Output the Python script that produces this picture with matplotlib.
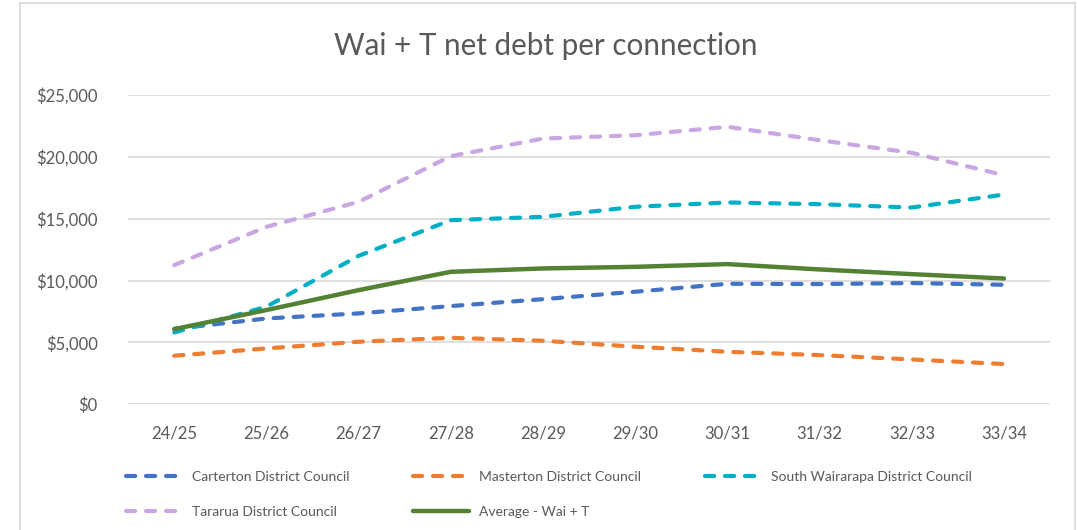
import matplotlib
matplotlib.use('Agg')
import matplotlib.pyplot as plt
from matplotlib.lines import Line2D

years = ['24/25', '25/26', '26/27', '27/28', '28/29',
         '29/30', '30/31', '31/32', '32/33', '33/34']

carterton = [6100, 6940, 7350, 7940, 8500, 9100, 9740, 9720, 9800, 9660]
masterton = [3930, 4520, 5060, 5380, 5140, 4660, 4250, 3980, 3630, 3260]
south_wairarapa = [5810, 7890, 12000, 14880, 15150, 15960, 16310, 16170, 15900, 16950]
tararua = [11250, 14340, 16360, 20050, 21470, 21740, 22420, 21340, 20320, 18510]
average = [6080, 7620, 9230, 10710, 10980, 11110, 11330, 10900, 10520, 10170]

series = [
    ('Carterton District Council', carterton, '#4472C4', True),
    ('Masterton District Council', masterton, '#ED7D31', True),
    ('South Wairarapa District Council', south_wairarapa, '#00AFC6', True),
    ('Tararua District Council', tararua, '#C9A7E3', True),
    ('Average - Wai + T', average, '#548235', False),
]

plt.rcParams['font.family'] = ['Lato', 'DejaVu Sans']
grey = '#595959'

fig = plt.figure(figsize=(10.77, 5.30), dpi=100)
ax = fig.add_axes([0.119, 0.237, 0.856, 0.584])

x = range(len(years))
handles = []
for name, vals, col, dashed in series:
    if dashed:
        ln, = ax.plot(x, vals, color=col, lw=3.0, linestyle=(0, (2.2, 2.6)),
                      dash_capstyle='round', label=name)
    else:
        ln, = ax.plot(x, vals, color=col, lw=3.2, solid_capstyle='round', label=name)
    handles.append(ln)

ax.set_xlim(-0.5, len(years) - 0.5)
ax.set_ylim(0, 25000)
ax.set_yticks(range(0, 25001, 5000))
ax.set_yticklabels(['${:,}'.format(v) for v in range(0, 25001, 5000)])
ax.set_xticks(list(x))
ax.set_xticklabels(years)
ax.tick_params(axis='both', length=0, labelsize=12, labelcolor=grey)
ax.tick_params(axis='y', pad=22)
ax.tick_params(axis='x', pad=15)
ax.grid(axis='y', color='#D9D9D9', lw=1.2)
ax.set_axisbelow(True)
for s in ax.spines.values():
    s.set_visible(False)

fig.text(0.507, 0.913, 'Wai + T net debt per connection', ha='center', va='center',
         fontsize=21.3, color=grey)

# legend: three columns, two rows (filled column by column)
leg = fig.legend(handles=[handles[0], handles[3], handles[1], handles[4], handles[2]],
                 ncol=3, loc='lower left', bbox_to_anchor=(0.105, 0.0),
                 frameon=False, fontsize=10, labelcolor=grey,
                 handlelength=4.0, handletextpad=0.75, columnspacing=4.6,
                 labelspacing=1.65)

# chart border
fig.add_artist(Line2D([0.019, 0.019], [0, 0.995], color='#D9D9D9', lw=1.2))
fig.add_artist(Line2D([0.998, 0.998], [0, 0.995], color='#D9D9D9', lw=1.2))
fig.add_artist(Line2D([0.019, 0.998], [0.995, 0.995], color='#D9D9D9', lw=1.2))

fig.savefig('out.png', dpi=100)
